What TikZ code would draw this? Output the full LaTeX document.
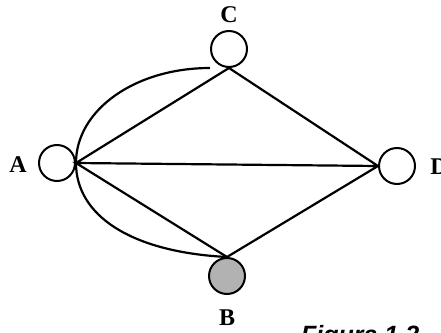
\documentclass[tikz,border=0pt]{standalone}
\usepackage{fontspec}
\setmainfont{Liberation Serif}
\newfontfamily\capfont{Liberation Sans}
\usetikzlibrary{calc}

\begin{document}
\begin{tikzpicture}[x=1pt,y=-1pt,line width=2.2pt,
  vertex/.style={circle,draw,minimum size=36pt,inner sep=0pt,line width=2pt},
  lbl/.style={font=\bfseries\fontsize{24}{24}\selectfont,inner sep=0pt}]
  \useasboundingbox (0,0) rectangle (441,332);
  % Graph with four vertices, A joined to B and C also by a curve.
  \node[vertex] (A) at (57,163) {};
  \node[vertex] (C) at (229,49) {};
  \node[vertex] (D) at (397,166) {};
  \node[vertex,fill=black!30] (B) at (227,276) {};
  \node[lbl] (la) at (18,165) {A};
  \node[lbl] (lc) at (229,15) {C};
  \node[lbl] (ld) at (439,167) {D};
  \node[lbl] (lb) at (227,318) {B};
  \coordinate (arcC) at (210,68);
  \draw (A.east) -- (C.south) -- (D.west) -- (B.north) -- (A.east) -- (D.west);
  \draw (arcC) .. controls (135,68) and (76,110) .. (A.east)
               .. controls (76,215) and (130,252) .. (B.north);
  \node[anchor=base west,inner sep=0pt,font=\capfont\bfseries\itshape\fontsize{25}{25}\selectfont]
    (cap) at (300,343) {Figura 1.2};
\end{tikzpicture}
\end{document}
